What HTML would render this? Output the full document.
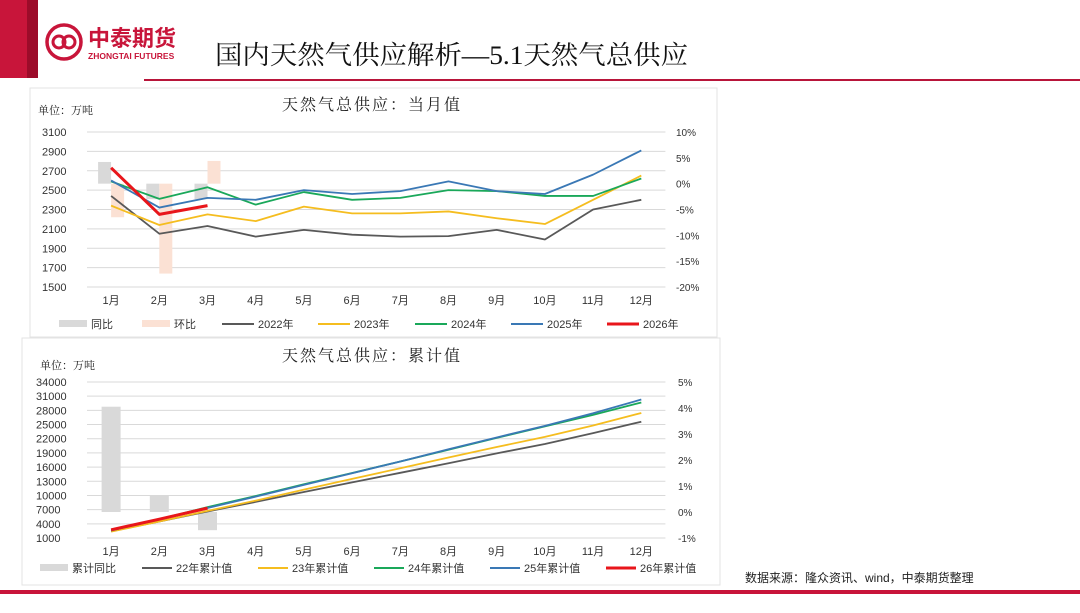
<!DOCTYPE html>
<html><head><meta charset="utf-8">
<style>
body{margin:0;width:1080px;height:608px;background:#fff;overflow:hidden;font-family:"Liberation Sans","Noto Sans CJK SC",sans-serif;}
svg text{font-family:"Liberation Sans","Noto Sans CJK SC",sans-serif;}
svg text.serif{font-family:"Liberation Serif","Noto Serif CJK SC",serif;}
</style></head><body>
<svg id="page" width="1080" height="608" viewBox="0 0 1080 608" xmlns="http://www.w3.org/2000/svg">
<rect x="0" y="0" width="27" height="78" fill="#c8153a"/>
<rect x="27" y="0" width="11" height="78" fill="#9c0c2a"/>
<g>
<circle cx="64" cy="42" r="17" fill="none" stroke="#c8153a" stroke-width="3.5"/>
<circle cx="59" cy="42" r="6" fill="none" stroke="#c8153a" stroke-width="3"/>
<circle cx="69" cy="42" r="6" fill="none" stroke="#c8153a" stroke-width="3"/>
<text x="88" y="46" font-size="22" font-weight="bold" fill="#c8153a">中泰期货</text>
<text x="88" y="59" font-size="8.5" font-weight="bold" fill="#c8153a">ZHONGTAI FUTURES</text>
</g>
<text class="serif" x="215" y="64" font-size="26" textLength="473" lengthAdjust="spacingAndGlyphs" fill="#111">国内天然气供应解析—5.1天然气总供应</text>
<rect x="144" y="79" width="936" height="2" fill="#b8153a"/>
<rect x="30" y="88" width="687" height="249" fill="#fff" stroke="#e3e3e3"/>
<rect x="22" y="338" width="698" height="247" fill="#fff" stroke="#e3e3e3"/>
<g id="c1"></g>
<g id="c2"></g>
<text x="745" y="582" font-size="12" fill="#222">数据来源：隆众资讯、wind，中泰期货整理</text>
<rect x="0" y="590" width="1080" height="4" fill="#c8153a"/>
</svg>
<script>
const months=["1月","2月","3月","4月","5月","6月","7月","8月","9月","10月","11月","12月"];
const leftTicks1=[1500,1700,1900,2100,2300,2500,2700,2900,3100];
const rightTicks1=[-20,-15,-10,-5,0,5,10];
const v2022=[2440,2050,2130,2020,2090,2040,2020,2025,2090,1990,2300,2400];
const v2023=[2340,2140,2250,2180,2330,2260,2260,2280,2210,2150,2400,2650];
const v2024=[2590,2410,2530,2350,2480,2400,2420,2500,2490,2440,2440,2620];
const v2025=[2600,2320,2420,2400,2500,2460,2490,2590,2490,2460,2660,2910];
const v2026=[2730,2250,2340];
const yoy1=[4.2,-3.0,-3.0];
const mom1=[-6.5,-17.4,4.4];
const leftTicks2=[1000,4000,7000,10000,13000,16000,19000,22000,25000,28000,31000,34000];
const rightTicks2=[-1,0,1,2,3,4,5];
const c2022=[2440,4490,6620,8640,10730,12770,14790,16815,18905,20895,23195,25595];
const c2023=[2340,4480,6730,8910,11240,13500,15760,18040,20250,22400,24800,27450];
const c2024=[2590,5000,7530,9880,12360,14760,17180,19680,22170,24610,27050,29670];
const c2025=[2600,4920,7340,9740,12240,14700,17190,19780,22270,24730,27390,30300];
const c2026=[2730,4980,7320];
const cumYoy=[4.05,0.62,-0.7];

const NS="http://www.w3.org/2000/svg";
function mk(parent,tag,attrs,text){const e=document.createElementNS(NS,tag);for(const k in attrs)e.setAttribute(k,attrs[k]);if(text!==undefined)e.textContent=text;parent.appendChild(e);return e;}
const colors={g:"#595959",y:"#f5bd1f",gr:"#1aa85a",b:"#3a78b5",r:"#e8161b"};

function chart(g,o){
  const X=i=>o.x0+o.bw*(i+0.5);
  const YL=v=>o.yb-(v-o.lmin)/(o.lmax-o.lmin)*(o.yb-o.yt);
  const YR=v=>o.yb-(v-o.rmin)/(o.rmax-o.rmin)*(o.yb-o.yt);
  const tt=mk(g,"text",{x:o.tx,y:o.ty,"font-size":16,"text-anchor":"middle","letter-spacing":"2",fill:"#222","class":"serif"},o.title);
  
  
  mk(g,"text",{x:o.ux,y:o.uy,"font-size":11,fill:"#222","class":"serif"},"单位：万吨");
  o.lt.forEach(v=>{
    const y=YL(v);
    const gl=mk(g,"line",{x1:o.x0,x2:o.x0+o.bw*12,y1:y,y2:y,stroke:"#d9d9d9","stroke-width":1});
    
    
    const t=mk(g,"text",{x:o.lx,y:y+4,"font-size":11,fill:"#333"},String(v));
    
    
  });
  o.rt.forEach(v=>{
    const t=mk(g,"text",{x:o.rx,y:YR(v)+4,"font-size":10,fill:"#333"},v+"%");
    
    
  });
  months.forEach((m,i)=>{
    const t=mk(g,"text",{x:X(i),y:o.yb+17,"font-size":11,"text-anchor":"middle",fill:"#333"},m);
    
    
  });
  o.bars.forEach(b=>{
    b.vals.forEach((v,i)=>{
      const y0=YR(0),y1=YR(v);
      const r=mk(g,"rect",{x:X(i)+b.off,y:Math.min(y0,y1),width:b.w,height:Math.abs(y1-y0),fill:b.c});
      
      
    });
  });
  o.lines.forEach(l=>{
    const p=mk(g,"polyline",{points:l.vals.map((v,i)=>X(i)+","+YL(v)).join(" "),fill:"none",stroke:l.c,"stroke-width":l.w||1.8,"stroke-linejoin":"round"});
    
    
  });
  o.legend.forEach(e=>{
    const lg=mk(g,"g",{});
    
    
    if(e.bar) mk(lg,"rect",{x:e.x,y:o.ly-4,width:e.sw,height:7,fill:e.c});
    else mk(lg,"line",{x1:e.x,x2:e.x+e.sw,y1:o.ly,y2:o.ly,stroke:e.c,"stroke-width":e.w||2});
    mk(lg,"text",{x:e.x+e.sw+4,y:o.ly+4,"font-size":11,fill:"#333"},e.t);
  });
}
chart(document.getElementById("c1"),{
  x0:87,bw:48.2,yt:132,yb:287,lmin:1500,lmax:3100,rmin:-20,rmax:10,
  title:"天然气总供应：当月值",tx:372,ty:110,ux:38,uy:114,lx:42,rx:676,ly:324,
  lt:leftTicks1,rt:rightTicks1,
  bars:[{vals:yoy1,c:"#d9d9d9",off:-13,w:13,name:"yoy"},{vals:mom1,c:"#fbe1d4",off:0,w:13,name:"mom"}],
  lines:[{vals:v2022,c:colors.g,name:"y2022"},{vals:v2023,c:colors.y,name:"y2023"},{vals:v2024,c:colors.gr,name:"y2024"},{vals:v2025,c:colors.b,name:"y2025"},{vals:v2026,c:colors.r,w:3,name:"y2026"}],
  legend:[{x:59,sw:28,bar:1,c:"#d9d9d9",t:"同比"},{x:142,sw:28,bar:1,c:"#fbe1d4",t:"环比"},{x:222,sw:32,c:colors.g,t:"2022年"},{x:318,sw:32,c:colors.y,t:"2023年"},{x:415,sw:32,c:colors.gr,t:"2024年"},{x:511,sw:32,c:colors.b,t:"2025年"},{x:607,sw:32,c:colors.r,w:3,t:"2026年"}]
});
chart(document.getElementById("c2"),{
  x0:87,bw:48.2,yt:382,yb:538,lmin:1000,lmax:34000,rmin:-1,rmax:5,
  title:"天然气总供应：累计值",tx:372,ty:361,ux:40,uy:369,lx:36,rx:678,ly:568,
  lt:leftTicks2,rt:rightTicks2,
  bars:[{vals:cumYoy,c:"#d9d9d9",off:-9.5,w:19,name:"cum-yoy"}],
  lines:[{vals:c2022,c:colors.g,name:"c2022"},{vals:c2023,c:colors.y,name:"c2023"},{vals:c2024,c:colors.gr,name:"c2024"},{vals:c2025,c:colors.b,name:"c2025"},{vals:c2026,c:colors.r,w:3,name:"c2026"}],
  legend:[{x:40,sw:28,bar:1,c:"#d9d9d9",t:"累计同比"},{x:142,sw:30,c:colors.g,t:"22年累计值"},{x:258,sw:30,c:colors.y,t:"23年累计值"},{x:374,sw:30,c:colors.gr,t:"24年累计值"},{x:490,sw:30,c:colors.b,t:"25年累计值"},{x:606,sw:30,c:colors.r,w:3,t:"26年累计值"}]
});
</script>
</body></html>
